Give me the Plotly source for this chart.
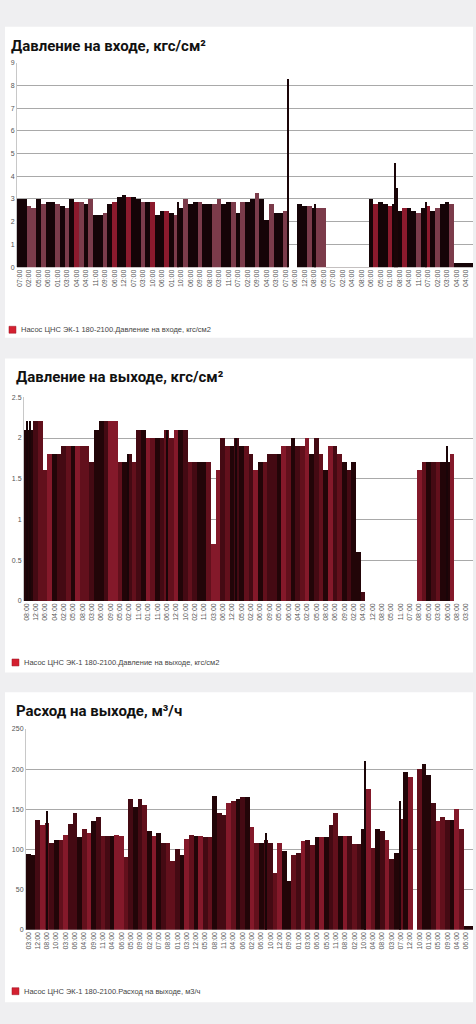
import plotly.graph_objects as go

# --- данные ---
vhod = [3.0, 3.0, 2.7, 2.6, 3.0, 2.8, 2.9, 2.9, 2.8, 2.7, 2.6, 3.0, 2.9, 2.9, 2.8, 3.0,
        2.3, 2.3, 2.4, 2.8, 2.9, 3.1, 3.2, 3.1, 3.1, 3.0, 2.9, 2.9, 2.9, 2.3, 2.5, 2.5,
        2.4, 2.3, 2.6, 3.0, 2.8, 2.9, 2.9, 2.8, 2.8, 2.8, 3.0, 2.8, 2.9, 2.9, 2.4, 2.9,
        2.9, 3.0, 3.3, 3.0, 2.1, 2.8, 2.4, 2.4, 2.5, 0, 0, 2.8, 2.7, 2.7, 2.6, 2.6,
        2.6, 0.02, 0.02, 0.02, 0.02, 0.02, 0.02, 0.02, 0.02, 0.02, 3.0, 2.8, 2.9, 2.8, 2.7, 2.8,
        2.5, 2.6, 2.6, 2.5, 2.4, 2.6, 2.7, 2.5, 2.6, 2.8, 2.9, 2.8, 0.2, 0.2, 0.2, 0.2]
vhod_pik_x = [33.4, 56.6, 62.2, 79.2, 79.5, 85.7]
vhod_pik = [2.9, 8.3, 2.8, 4.6, 3.5, 2.9]

vyhod = [2.1, 2.1, 2.2, 2.2, 1.6, 1.8, 1.8, 1.8, 1.9, 1.9, 1.9, 1.9, 1.9, 1.9, 1.7, 2.1,
         2.2, 2.2, 2.2, 2.2, 1.7, 1.7, 1.8, 1.7, 2.1, 2.1, 2.0, 2.0, 2.0, 2.0, 2.1, 2.0,
         2.1, 2.1, 2.1, 1.7, 1.7, 1.7, 1.7, 1.7, 0.7, 1.6, 2.0, 1.9, 1.9, 2.0, 1.9, 1.9,
         1.8, 1.6, 1.7, 1.7, 1.8, 1.8, 1.8, 1.9, 1.9, 2.0, 1.9, 1.9, 2.0, 1.8, 2.0, 1.8,
         1.6, 1.9, 1.9, 1.8, 1.7, 1.6, 1.7, 0.6, 0.1, 0, 0, 0, 0, 0, 0, 0,
         0, 0, 0, 0, 1.6, 1.7, 1.7, 1.7, 1.7, 1.7, 1.7, 1.8, 0, 0, 0, 0]
vyhod_pik_x = [0.2, 0.9, 21.7, 30.1, 44.9, 90.0]
vyhod_pik = [2.2, 2.2, 1.8, 2.1, 2.0, 1.9]

rashod = [94, 93, 137, 130, 133, 108, 112, 112, 118, 132, 145, 115, 125, 120, 135, 140,
          117, 117, 117, 118, 117, 90, 163, 153, 163, 155, 123, 117, 120, 108, 108, 85,
          100, 93, 113, 118, 117, 117, 116, 116, 167, 145, 143, 158, 160, 163, 165, 165,
          128, 108, 108, 112, 108, 70, 108, 98, 60, 93, 95, 110, 112, 105, 115, 115,
          115, 130, 145, 117, 117, 117, 107, 107, 125, 175, 102, 125, 123, 112, 88, 95,
          138, 197, 190, 0, 200, 207, 193, 158, 135, 140, 137, 137, 150, 125, 5, 5]
rashod_pik_x = [4.0, 51.1, 72.4, 79.9]
rashod_pik = [148, 120, 210, 160]

chasy1 = ["07:00", "02:00", "05:00", "06:00", "01:00", "03:00", "04:00", "04:00", "11:00", "09:00",
          "06:00", "12:00", "07:00", "03:00", "10:00", "06:00", "01:00", "10:00", "06:00", "09:00",
          "08:00", "03:00", "11:00", "07:00", "02:00", "09:00", "04:00", "03:00", "07:00", "06:00",
          "12:00", "08:00", "05:00", "07:00", "02:00", "04:00", "08:00", "06:00", "05:00", "01:00",
          "08:00", "04:00", "11:00", "07:00", "02:00", "03:00", "04:00", "04:00"]
chasy2 = ["08:00", "12:00", "06:00", "04:00", "02:00", "05:00", "08:00", "03:00", "06:00", "09:00",
          "05:00", "02:00", "11:00", "01:00", "11:00", "06:00", "12:00", "10:00", "02:00", "11:00",
          "03:00", "06:00", "12:00", "05:00", "02:00", "06:00", "09:00", "05:00", "06:00", "04:00",
          "02:00", "05:00", "08:00", "06:00", "09:00", "02:00", "04:00", "12:00", "08:00", "05:00",
          "11:00", "07:00", "08:00", "05:00", "03:00", "06:00", "08:00", "03:00"]
chasy3 = ["03:00", "12:00", "08:00", "10:00", "03:00", "06:00", "04:00", "09:00", "11:00", "04:00",
          "06:00", "05:00", "09:00", "02:00", "07:00", "08:00", "01:00", "03:00", "12:00", "05:00",
          "08:00", "11:00", "04:00", "06:00", "02:00", "06:00", "10:00", "12:00", "09:00", "01:00",
          "03:00", "06:00", "05:00", "11:00", "08:00", "02:00", "10:00", "04:00", "08:00", "03:00",
          "07:00", "12:00", "10:00", "01:00", "05:00", "09:00", "04:00", "06:00"]

# --- оформление ---
palitra = {"k": "#150407", "m": "#7b3b4a", "c": "#8c1a2d",
           "a": "#220508", "b": "#440a13", "d": "#62101c", "e": "#84192a"}
cvet1 = ("kkmmkmkkmkmkcmkm" "kkmkckkckkmkckkc" "kmkmkkmkkmmkkmkm"
         "kkmkkmkkmkkkkmkm" "mkkkkkkkkkkckkck" "kckkmkckmkkmkkkk")
cvet2 = ("aabddeabbdaeddba" "abeedabdbaedabdd" "eabdbaadeebdabad"
         "beadbbaedabdeabd" "aebdabaabbddaaed" "bdaeedabdaaebdab")
cvet3 = ("aabedbadebbadeab" "dbaeedbabdaeabdd" "baedaebdabbedaba"
         "edabbdeaadbebdae" "abdaebdbaedabeba" "daebdaabedbaedaa")

W, H = 476, 1024
fon = "#efeff1"
seryj = "#555555"


def px(x):
    return x / W


def py(y):
    return 1 - y / H


fig = go.Figure()

paneli = [
    dict(y=vhod, px_=vhod_pik_x, p=vhod_pik, cv=cvet1, n=""),
    dict(y=vyhod, px_=vyhod_pik_x, p=vyhod_pik, cv=cvet2, n="2"),
    dict(y=rashod, px_=rashod_pik_x, p=rashod_pik, cv=cvet3, n="3"),
]

for pan in paneli:
    x = list(range(len(pan["y"])))
    cols = [palitra[ch] for ch in pan["cv"]]
    fig.add_trace(go.Bar(x=x, y=pan["y"], marker=dict(color=cols, line_width=0),
                         width=1, showlegend=False, hoverinfo="y",
                         xaxis="x" + pan["n"], yaxis="y" + pan["n"]))
    # тонкие пики
    fig.add_trace(go.Bar(x=pan["px_"], y=pan["p"], marker=dict(color="#1a0508", line_width=0),
                         width=0.28, showlegend=False, hoverinfo="y",
                         xaxis="x" + pan["n"], yaxis="y" + pan["n"]))

os_x = dict(range=[-0.5, 95.5], tickmode="array", tickvals=list(range(0, 96, 2)),
            tickangle=-90, tickfont=dict(size=7, color=seryj, family="Liberation Sans"),
            showgrid=False, zeroline=False, showline=False, ticks="", fixedrange=True)
os_y = dict(showgrid=True, gridcolor="#a9a9a9", gridwidth=1, zeroline=False,
            showline=True, linecolor="#c8c8c8", linewidth=1, ticks="",
            tickfont=dict(size=7, color=seryj, family="Liberation Sans"), fixedrange=True)

fig.update_layout(
    width=W, height=H, margin=dict(l=0, r=0, t=0, b=0),
    paper_bgcolor=fon, plot_bgcolor="white", barmode="overlay", bargap=0,
    xaxis=dict(os_x, domain=[px(16), px(473)], ticktext=chasy1, anchor="y"),
    yaxis=dict(os_y, domain=[py(265), py(59)], range=[0, 9], dtick=1, anchor="x"),
    xaxis2=dict(os_x, domain=[px(23), px(473)], ticktext=chasy2, anchor="y2"),
    yaxis2=dict(os_y, domain=[py(601), py(396)], range=[0, 2.5], dtick=0.5, anchor="x2"),
    xaxis3=dict(os_x, domain=[px(25), px(473)], ticktext=chasy3, anchor="y3"),
    yaxis3=dict(os_y, domain=[py(932), py(730)], range=[0, 250], dtick=50, anchor="x3"),
)

# белые карточки
for top, bot in [(23, 336), (357, 673), (693, 1005)]:
    fig.add_shape(type="rect", xref="paper", yref="paper", layer="below",
                  x0=px(4), x1=px(473), y0=py(bot), y1=py(top),
                  fillcolor="white", line_width=0)

zagolovki = [("Давление на входе, кгс/см²", 8, 42),
             ("Давление на выходе, кгс/см²", 13, 376),
             ("Расход на выходе, м³/ч", 13, 712)]
for txt, x0, y0 in zagolovki:
    fig.add_annotation(text="<b>" + txt + "</b>", xref="paper", yref="paper",
                       x=px(x0), y=py(y0), xanchor="left", yanchor="middle", showarrow=False,
                       font=dict(size=15, color="#111111", family="Roboto"))

legendy = [("Насос ЦНС ЭК-1 180-2100.Давление на входе, кгс/см2", 8, 328),
           ("Насос ЦНС ЭК-1 180-2100.Давление на выходе, кгс/см2", 11, 663),
           ("Насос ЦНС ЭК-1 180-2100.Расход на выходе, м3/ч", 11, 994)]
for txt, x0, y0 in legendy:
    fig.add_shape(type="rect", xref="paper", yref="paper",
                  x0=px(x0), x1=px(x0 + 7), y0=py(y0 + 3.5), y1=py(y0 - 3.5),
                  fillcolor="#d42030", line=dict(color="#9a1020", width=0.5))
    fig.add_annotation(text=txt, xref="paper", yref="paper",
                       x=px(x0 + 10), y=py(y0), xanchor="left", yanchor="middle", showarrow=False,
                       font=dict(size=7.5, color="#444444", family="Liberation Sans"))

# убираем отступ body, чтобы картинка легла ровно в окно
fig.write_html("out.html", config={"displayModeBar": False},
               post_script="document.body.style.margin='0';")
